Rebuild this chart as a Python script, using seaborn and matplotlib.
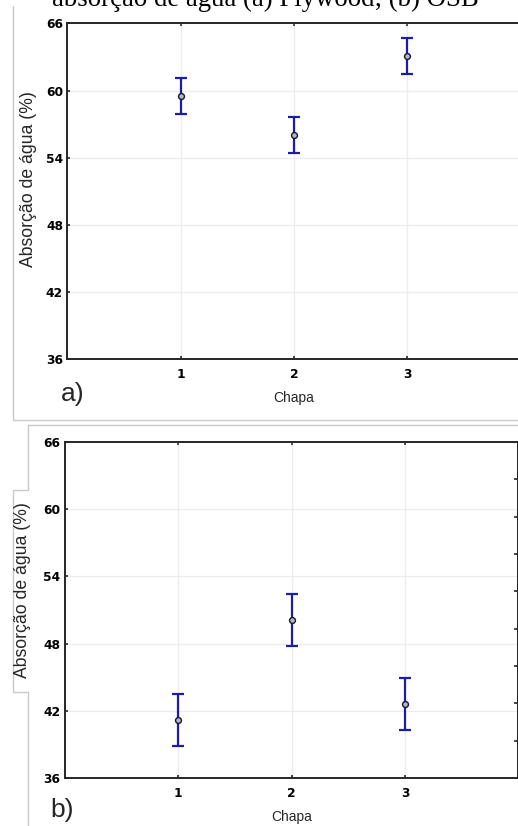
import matplotlib
matplotlib.use("Agg")
import matplotlib.pyplot as plt
from matplotlib.lines import Line2D
import seaborn as sns
import pandas as pd

# Water absorption (%) per panel type, mean and error half-width
chapa = [1, 2, 3]
plywood_mean = [59.5, 56.0, 63.1]
plywood_err = [1.6, 1.6, 1.6]
osb_mean = [41.2, 50.1, 42.6]
osb_err = [2.3, 2.3, 2.3]

y_ticks = [36, 42, 48, 54, 60, 66]
x_ticks = [1, 2, 3]
right_ticks = [39.33, 42.67, 46.0, 49.33, 52.67, 56.0, 59.33, 62.67]

title_text = "absorção de água (a) Plywood; (b) OSB"
y_label = "Absorção de água (%)"
x_label = "Chapa"

BLUE = "#1c1cac"
FRAME = "#c9c9c9"

sns.set_theme(style="whitegrid")
plt.rcParams["font.family"] = ["Liberation Sans", "DejaVu Sans"]

W, H = 518, 826
fig = plt.figure(figsize=(W / 100, H / 100), dpi=100)


def px_axes(left, top, right, bottom):
    return fig.add_axes([left / W, 1 - bottom / H, (right - left) / W, (bottom - top) / H])


def px_text(x, y, s, **kw):
    return fig.text(x / W, 1 - y / H, s, **kw)


def px_line(points, **kw):
    xs = [p[0] / W for p in points]
    ys = [1 - p[1] / H for p in points]
    fig.add_artist(Line2D(xs, ys, transform=fig.transFigure, **kw))


def draw_panel(ax, mean, err, right_axis):
    df = pd.DataFrame({"Chapa": chapa, "mean": mean, "err": err})
    ax.errorbar(df["Chapa"], df["mean"], yerr=df["err"], fmt="none",
                ecolor=BLUE, elinewidth=1.6, capsize=4.6, capthick=1.6, zorder=3)
    sns.scatterplot(data=df, x="Chapa", y="mean", ax=ax, marker="o", s=18,
                    color="#a9b6d6", edgecolor="#1a1a1a", linewidth=1.0, zorder=5)
    ax.set_xlim(0, 4)
    ax.set_ylim(36, 66)
    ax.set_xticks(x_ticks)
    ax.set_yticks(y_ticks)
    ax.set_xlabel("")
    ax.set_ylabel("")
    ax.grid(True, color="#ececec", linewidth=0.9)
    for sp in ax.spines.values():
        sp.set_color("#262626")
        sp.set_linewidth(1.4)
    ax.tick_params(axis="both", which="both", direction="in", length=2.2, width=1.2,
                   color="#262626", top=True, bottom=True, left=True, right=False,
                   labelcolor="black")
    ax.tick_params(axis="x", pad=6.0)
    ax.tick_params(axis="y", pad=3.2)
    for lbl in ax.get_xticklabels() + ax.get_yticklabels():
        lbl.set_fontfamily("DejaVu Sans")
        lbl.set_fontweight("bold")
        lbl.set_fontsize(8.8)
    if right_axis:
        twin = ax.twinx()
        twin.set_ylim(36, 66)
        twin.set_yticks(right_ticks)
        twin.grid(False)
        twin.tick_params(axis="y", direction="in", length=3, width=1.2, color="#262626",
                         right=True, labelright=False)
        for sp in twin.spines.values():
            sp.set_visible(False)
        twin.spines["right"].set_visible(True)
        twin.spines["right"].set_color("#262626")
        twin.spines["right"].set_linewidth(1.4)


# Caption line partly above the figures
px_text(52, 6, title_text, family="Liberation Serif", fontsize=19.3,
        ha="left", va="baseline", color="black")

# Panel frames
px_line([(13, 6), (13, 420), (520, 420)], color=FRAME, linewidth=1.0)
px_line([(520, 425), (28, 425), (28, 490), (13, 490), (13, 692), (28, 692), (28, 830)],
        color=FRAME, linewidth=1.0)

# (a) Plywood
ax_a = px_axes(67.4, 23.3, 520.6, 359.3)
draw_panel(ax_a, plywood_mean, plywood_err, right_axis=False)
px_text(29, 179, y_label, rotation=90, ha="center", va="center", fontsize=12.7)
px_text(294, 398, x_label, ha="center", va="center", fontsize=10)
px_text(73, 394, "a)", ha="center", va="center", fontsize=19)

# (b) OSB
ax_b = px_axes(65, 441.7, 518.3, 778.3)
draw_panel(ax_b, osb_mean, osb_err, right_axis=True)
px_text(23, 590, y_label, rotation=90, ha="center", va="center", fontsize=12.7)
px_text(291.7, 816.5, x_label, ha="center", va="center", fontsize=10)
px_text(62, 810, "b)", ha="center", va="center", fontsize=19)

fig.savefig("out.png", dpi=100)
